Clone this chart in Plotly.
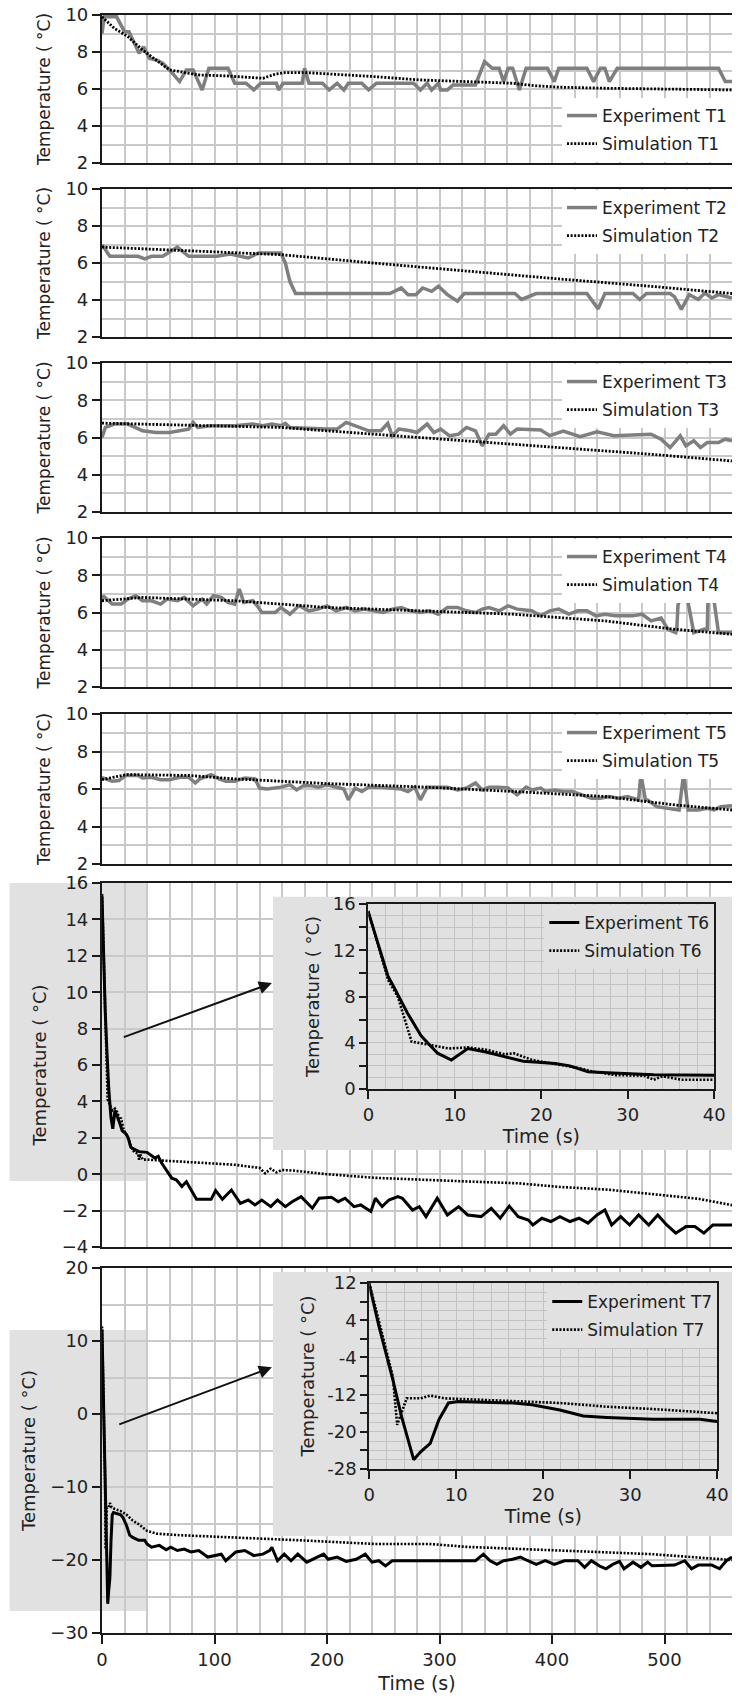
import plotly.graph_objects as go

# ---------------- data ----------------
t1_exp_x = [0, 2, 13, 20, 24, 33, 37, 42, 48, 54, 60, 69, 75, 81, 89, 95, 102, 112, 118, 128, 135, 141, 155, 157, 161, 178, 180, 184, 196, 202, 209, 215, 219, 231, 237, 244, 277, 283, 289, 293, 299, 301, 307, 312, 332, 340, 347, 353, 357, 361, 365, 371, 377, 396, 402, 406, 431, 437, 443, 447, 451, 458, 548, 554, 560]
t1_exp_y = [9.0, 9.9, 9.9, 9.1, 9.1, 7.93, 8.29, 7.66, 7.57, 7.39, 7.03, 6.4, 7.03, 7.03, 5.95, 7.12, 7.12, 7.12, 6.31, 6.31, 5.95, 6.31, 6.31, 5.95, 6.31, 6.31, 7.12, 6.31, 6.31, 5.95, 6.31, 5.95, 6.31, 6.31, 5.95, 6.31, 6.31, 5.95, 6.31, 5.95, 6.31, 5.95, 5.95, 6.22, 6.22, 7.48, 7.12, 7.12, 6.4, 7.12, 7.12, 5.95, 7.12, 7.12, 6.4, 7.12, 7.12, 6.4, 7.12, 7.12, 6.4, 7.12, 7.12, 6.4, 6.4]
t1_sim_x = [0, 11, 23, 36, 48, 60, 69, 85, 110, 130, 143, 155, 163, 180, 200, 242, 283, 324, 365, 386, 406, 447, 560]
t1_sim_y = [9.9, 9.28, 8.83, 8.11, 7.57, 7.03, 6.94, 6.76, 6.71, 6.64, 6.58, 6.82, 6.89, 6.89, 6.82, 6.67, 6.49, 6.4, 6.31, 6.17, 6.1, 6.04, 5.95]

t2_exp_x = [0, 7, 32, 38, 44, 54, 67, 77, 102, 114, 130, 139, 159, 163, 167, 172, 256, 266, 272, 279, 285, 293, 299, 307, 316, 322, 367, 373, 386, 431, 441, 447, 472, 478, 484, 505, 509, 515, 522, 530, 536, 542, 548, 560]
t2_exp_y = [6.99, 6.36, 6.36, 6.22, 6.36, 6.36, 6.86, 6.36, 6.36, 6.48, 6.27, 6.54, 6.54, 6.0, 5.01, 4.35, 4.35, 4.65, 4.29, 4.29, 4.65, 4.47, 4.74, 4.29, 3.94, 4.35, 4.35, 4.03, 4.35, 4.35, 3.52, 4.35, 4.35, 4.03, 4.35, 4.35, 4.17, 3.49, 4.29, 4.03, 4.38, 4.11, 4.29, 4.11]
t2_sim_x = [0, 77, 159, 241, 324, 406, 488, 560]
t2_sim_y = [6.86, 6.68, 6.45, 6.0, 5.55, 5.14, 4.74, 4.35]

t3_exp_x = [0, 3, 11, 23, 36, 48, 60, 77, 81, 85, 97, 118, 134, 143, 151, 159, 163, 167, 200, 209, 217, 225, 237, 248, 254, 258, 264, 274, 280, 289, 295, 301, 309, 317, 324, 332, 338, 344, 350, 357, 363, 369, 390, 398, 410, 425, 440, 455, 488, 497, 505, 514, 519, 526, 532, 538, 548, 554, 560]
t3_exp_y = [6.0, 6.54, 6.72, 6.72, 6.36, 6.27, 6.27, 6.45, 6.81, 6.54, 6.63, 6.63, 6.72, 6.63, 6.72, 6.63, 6.76, 6.54, 6.45, 6.45, 6.81, 6.63, 6.36, 6.36, 6.76, 6.09, 6.45, 6.36, 6.27, 6.72, 6.27, 6.45, 6.09, 6.18, 6.54, 6.36, 5.55, 6.18, 6.18, 6.63, 6.18, 6.45, 6.4, 6.1, 6.35, 6.05, 6.3, 6.1, 6.18, 5.91, 5.46, 6.09, 5.55, 5.82, 5.46, 5.73, 5.73, 5.91, 5.82]
t3_sim_x = [0, 159, 241, 324, 406, 488, 560]
t3_sim_y = [6.77, 6.54, 6.18, 5.82, 5.46, 5.1, 4.74]

t4_exp_x = [0, 1, 9, 17, 23, 30, 36, 44, 52, 58, 67, 73, 81, 89, 93, 99, 106, 112, 118, 122, 126, 134, 138, 142, 154, 159, 167, 175, 184, 192, 200, 208, 217, 225, 233, 241, 250, 258, 266, 274, 283, 291, 299, 307, 316, 324, 332, 338, 344, 353, 361, 369, 382, 390, 398, 406, 415, 423, 431, 439, 447, 456, 464, 472, 480, 488, 497, 503, 510, 511, 512, 518, 526, 535, 538, 539, 542, 548, 560]
t4_exp_y = [6.63, 6.9, 6.45, 6.45, 6.72, 6.9, 6.63, 6.63, 6.45, 6.72, 6.63, 6.81, 6.36, 6.72, 6.45, 6.9, 6.81, 6.54, 6.45, 7.26, 6.54, 6.63, 6.36, 6.0, 6.0, 6.27, 5.91, 6.36, 6.09, 6.18, 6.36, 6.09, 6.27, 6.09, 6.18, 6.09, 6.0, 6.18, 6.27, 6.09, 6.0, 6.09, 5.91, 6.27, 6.27, 6.09, 6.0, 6.18, 6.27, 6.09, 6.36, 6.18, 6.09, 5.82, 6.09, 6.18, 5.91, 6.09, 6.09, 5.82, 5.91, 5.82, 5.82, 5.82, 5.91, 5.55, 5.7, 5.1, 4.92, 5.2, 6.4, 7.5, 4.92, 5.1, 5.1, 7.5, 7.5, 4.92, 4.92]
t4_sim_x = [0, 36, 118, 200, 283, 365, 447, 509, 560]
t4_sim_y = [6.63, 6.81, 6.63, 6.27, 6.09, 5.91, 5.55, 5.1, 4.83]

t5_exp_x = [0, 1, 9, 15, 21, 32, 36, 44, 52, 60, 69, 77, 83, 87, 97, 104, 110, 118, 127, 136, 140, 147, 159, 167, 173, 179, 186, 192, 200, 209, 215, 219, 225, 231, 237, 246, 254, 266, 272, 278, 283, 289, 299, 307, 316, 324, 332, 338, 344, 353, 361, 369, 377, 382, 390, 394, 402, 410, 418, 427, 435, 443, 451, 459, 467, 477, 479, 483, 485, 493, 509, 513, 517, 521, 522, 530, 538, 544, 550, 560]
t5_exp_y = [6.59, 6.59, 6.41, 6.45, 6.72, 6.72, 6.59, 6.63, 6.5, 6.5, 6.63, 6.63, 6.32, 6.54, 6.77, 6.54, 6.41, 6.41, 6.59, 6.54, 6.05, 6.0, 6.1, 6.23, 5.95, 6.18, 6.18, 6.1, 6.23, 6.1, 6.0, 5.42, 6.05, 5.87, 6.1, 6.1, 6.05, 6.0, 5.87, 6.1, 5.42, 6.1, 6.1, 6.1, 5.95, 6.05, 6.32, 5.95, 6.1, 6.1, 6.05, 5.69, 6.1, 5.95, 6.05, 5.87, 5.95, 5.87, 5.87, 5.69, 5.51, 5.51, 5.6, 5.51, 5.6, 5.42, 6.8, 5.42, 5.42, 5.06, 4.88, 4.88, 6.8, 4.88, 4.88, 4.88, 4.97, 4.88, 5.06, 5.11]
t5_sim_x = [0, 22, 77, 118, 200, 283, 365, 447, 509, 560]
t5_sim_y = [6.5, 6.77, 6.72, 6.54, 6.29, 6.11, 5.87, 5.6, 5.15, 4.88]

t6_exp_x = [0, 2.3, 2.9, 4.5, 6.1, 8, 9.6, 11.5, 13.6, 15.8, 17.9, 20, 21.6, 23.3, 25.4, 27.6, 33, 40, 47, 50, 53, 59, 62, 66, 71, 75, 79, 84, 97, 101, 107, 115, 123, 130, 136, 142, 150, 156, 163, 169, 177, 187, 193, 204, 210, 216, 224, 230, 239, 243, 249, 255, 263, 267, 276, 282, 288, 298, 307, 317, 325, 337, 346, 354, 362, 370, 379, 383, 391, 399, 407, 416, 424, 432, 440, 447, 453, 461, 469, 477, 486, 494, 502, 510, 519, 527, 535, 543, 560]
t6_exp_y = [15.3, 9.7, 8.9, 6.6, 4.6, 3.1, 2.5, 3.5, 3.2, 2.8, 2.4, 2.3, 2.2, 2.0, 1.5, 1.4, 1.24, 1.2, 0.89, 0.98, 0.61, 0.06, -0.22, -0.31, -0.68, -0.41, -0.87, -1.38, -1.38, -0.9, -1.38, -0.87, -1.6, -1.42, -1.69, -1.42, -1.78, -1.42, -1.78, -1.51, -1.23, -1.87, -1.32, -1.27, -1.51, -1.32, -1.78, -1.69, -2.05, -1.32, -1.78, -1.42, -1.23, -1.32, -1.97, -1.78, -2.33, -1.32, -2.24, -1.78, -2.24, -2.33, -1.87, -2.42, -1.75, -2.33, -2.52, -2.79, -2.42, -2.6, -2.33, -2.6, -2.42, -2.69, -2.24, -1.97, -2.79, -2.33, -2.79, -2.24, -2.79, -2.24, -2.79, -3.24, -2.88, -2.88, -3.24, -2.79, -2.79]
t6_sim_x = [0, 2.3, 3.4, 4.5, 5, 7.2, 9.3, 11.5, 13.6, 15.8, 16.8, 19, 22.2, 24.4, 26, 28.7, 31.9, 33, 34, 36.2, 40, 50, 88, 118, 130, 140, 145, 150, 155, 160, 170, 200, 243, 280, 325, 370, 407, 450, 490, 530, 560]
t6_sim_y = [15.4, 9.4, 8.0, 5.4, 4.1, 3.8, 3.5, 3.6, 3.4, 3.0, 3.1, 2.5, 2.1, 1.8, 1.5, 1.2, 1.15, 0.8, 1.1, 0.8, 0.8, 0.76, 0.61, 0.52, 0.42, 0.35, 0.05, 0.3, 0.1, 0.23, 0.2, 0.0, -0.2, -0.3, -0.4, -0.5, -0.7, -0.85, -1.1, -1.35, -1.7]

t7_exp_x = [0, 1.1, 2.7, 3.7, 5.1, 5.9, 7, 8, 9.1, 10.2, 16.6, 18.7, 21.9, 24.6, 27.3, 32.6, 38, 40, 44, 51, 57, 61, 67, 73, 79, 86, 94, 106, 110, 119, 127, 135, 143, 149, 151, 156, 162, 168, 174, 182, 188, 197, 201, 209, 217, 226, 234, 240, 246, 252, 258, 332, 339, 345, 351, 357, 365, 372, 377, 386, 394, 402, 411, 423, 429, 435, 442, 448, 454, 460, 464, 472, 479, 485, 489, 497, 509, 518, 524, 530, 542, 549, 555, 560]
t7_exp_y = [11.6, 2.7, -8.8, -16.7, -26.0, -24.3, -22.5, -17.4, -13.8, -13.5, -13.8, -14.2, -15.3, -16.6, -16.9, -17.3, -17.3, -17.8, -18.25, -18.0, -18.6, -18.25, -18.7, -18.5, -18.9, -18.7, -19.6, -19.2, -20.1, -18.9, -18.7, -19.4, -19.2, -18.7, -18.25, -20.1, -19.2, -20.1, -19.2, -20.3, -19.9, -19.2, -19.9, -19.6, -20.2, -19.9, -19.2, -20.3, -20.1, -20.8, -20.1, -20.1, -19.2, -20.1, -20.6, -20.1, -19.9, -19.6, -20.0, -20.6, -20.1, -20.6, -20.1, -20.1, -21.0, -20.1, -20.8, -21.2, -20.6, -20.2, -21.2, -20.3, -21.0, -20.3, -20.8, -20.8, -20.7, -20.1, -21.2, -20.7, -20.7, -21.2, -20.1, -19.6]
t7_sim_x = [0, 1.6, 2.7, 3.2, 4.3, 5.9, 7, 8.6, 11.2, 16.6, 21.9, 27.3, 32.6, 40, 49, 69, 119, 176, 242, 291, 324, 407, 489, 560]
t7_sim_y = [12.0, -0.2, -8.1, -18.5, -12.8, -12.8, -12.2, -12.8, -13.0, -13.3, -13.8, -14.6, -15.1, -16.0, -16.4, -16.6, -16.9, -17.3, -17.8, -17.8, -18.2, -18.7, -19.2, -20.0]

main_x_ticks = [0, 100, 200, 300, 400, 500]
inset_x_ticks = [0, 10, 20, 30, 40]
inset6_y_vals = [0, 2, 4, 6, 8, 10, 12, 14, 16]
inset6_y_text = ["0", "", "4", "", "8", "", "12", "", "16"]
inset7_y_vals = [-28, -24, -20, -16, -12, -8, -4, 0, 4, 8, 12]
inset7_y_text = ["-28", "", "-20", "", "-12", "", "-4", "", "4", "", "12"]

# ---------------- layout geometry ----------------
W, H = 743, 1705
ML, MR, MT, MB = 102, 0, 15, 72
PH = H - MT - MB
PW = W - ML - MR

def py(p):
    return (H - MB - p) / PH

def px(p):
    return (p - ML) / PW

panels = [(15, 163), (189, 337), (363, 512), (538, 687), (714, 864), (883, 1247), (1268, 1633)]
yranges = [[2, 10]] * 5 + [[-4, 16], [-30, 20]]

FONT = "DejaVu Sans, Liberation Sans, Arial, sans-serif"
GRID = "#c9c9c9"
AX = "#1a1a1a"
EXP_GREY = "#7f7f7f"
BOXGREY = "#e1e1e1"
YT = "Temperature ( °C)"
TICKF = dict(family=FONT, size=18, color="#222")

fig = go.Figure()

# grey backgrounds for the insets (drawn in main-panel data space)
fig.add_trace(go.Scatter(x=[152, 560, 560, 152, 152], y=[15.25, 15.25, 1.33, 1.33, 15.25], mode="lines",
                         fill="toself", fillcolor=BOXGREY, line=dict(width=0), showlegend=False,
                         hoverinfo="skip", xaxis="x6", yaxis="y6"))
fig.add_trace(go.Scatter(x=[152, 560, 560, 152, 152], y=[19.45, 19.45, -16.7, -16.7, 19.45], mode="lines",
                         fill="toself", fillcolor=BOXGREY, line=dict(width=0), showlegend=False,
                         hoverinfo="skip", xaxis="x7", yaxis="y7"))

DOT = "2px,1.6px"
series = [
    (t1_exp_x, t1_exp_y, t1_sim_x, t1_sim_y, "T1"),
    (t2_exp_x, t2_exp_y, t2_sim_x, t2_sim_y, "T2"),
    (t3_exp_x, t3_exp_y, t3_sim_x, t3_sim_y, "T3"),
    (t4_exp_x, t4_exp_y, t4_sim_x, t4_sim_y, "T4"),
    (t5_exp_x, t5_exp_y, t5_sim_x, t5_sim_y, "T5"),
]
for i, (ex, ey, sx, sy, name) in enumerate(series):
    k = "" if i == 0 else str(i + 1)
    lg = "legend" if i == 0 else "legend" + str(i + 1)
    fig.add_trace(go.Scatter(x=ex, y=ey, mode="lines", name="Experiment " + name, legendgroup="e" + name,
                             line=dict(color=EXP_GREY, width=3.5), xaxis="x" + k, yaxis="y" + k,
                             legend=lg))
    fig.add_trace(go.Scatter(x=sx, y=sy, mode="lines", name="Simulation " + name, legendgroup="s" + name,
                             line=dict(color="black", width=2.8, dash=DOT), xaxis="x" + k, yaxis="y" + k,
                             legend=lg))

# main T6 / T7
for (ex, ey, sx, sy, k) in [(t6_exp_x, t6_exp_y, t6_sim_x, t6_sim_y, "6"), (t7_exp_x, t7_exp_y, t7_sim_x, t7_sim_y, "7")]:
    fig.add_trace(go.Scatter(x=sx, y=sy, mode="lines", showlegend=False,
                             line=dict(color="black", width=2.6, dash=DOT), xaxis="x" + k, yaxis="y" + k))
    fig.add_trace(go.Scatter(x=ex, y=ey, mode="lines", showlegend=False,
                             line=dict(color="black", width=3), xaxis="x" + k, yaxis="y" + k))

# insets
for (ex, ey, sx, sy, name, xa, ya, lg) in [
        (t6_exp_x, t6_exp_y, t6_sim_x, t6_sim_y, "T6", "x8", "y8", "legend6"),
        (t7_exp_x, t7_exp_y, t7_sim_x, t7_sim_y, "T7", "x9", "y9", "legend7")]:
    fig.add_trace(go.Scatter(x=ex, y=ey, mode="lines", name="Experiment " + name, legendgroup="e" + name,
                             line=dict(color="black", width=3), xaxis=xa, yaxis=ya, legend=lg))
    fig.add_trace(go.Scatter(x=sx, y=sy, mode="lines", name="Simulation " + name, legendgroup="s" + name,
                             line=dict(color="black", width=2.6, dash=DOT), xaxis=xa, yaxis=ya, legend=lg))

lay = dict(
    width=W, height=H, margin=dict(l=ML, r=MR, t=MT, b=MB),
    paper_bgcolor="white", plot_bgcolor="rgba(0,0,0,0)",
    font=dict(family=FONT, size=18, color="#222"),
    showlegend=True,
)

for i, (top, bot) in enumerate(panels):
    k = "" if i == 0 else str(i + 1)
    last = (i == 6)
    xa = dict(domain=[0, 1], anchor="y" + k, range=[0, 560], showline=True, linecolor=AX, linewidth=2.2,
              mirror=True, showgrid=True, gridcolor=GRID, gridwidth=1.5, zeroline=False,
              tickvals=main_x_ticks, showticklabels=last, ticks="outside" if last else "",
              ticklen=9, tickwidth=2, tickcolor=AX, tickfont=TICKF,
              minor=dict(dtick=20, tick0=0, showgrid=True, gridcolor=GRID, gridwidth=1.5))
    if last:
        xa["title"] = dict(text="Time (s)", standoff=8, font=dict(family=FONT, size=19))
    tsize = 17 if i < 5 else 18
    ya = dict(domain=[py(bot), py(top)], anchor="x" + k, range=yranges[i], showline=True, linecolor=AX,
              linewidth=2.2, showgrid=True, gridcolor=GRID, gridwidth=1.5, zeroline=False,
              ticks="outside", ticklen=8, tickwidth=2, tickcolor=AX, tickfont=TICKF,
              title=dict(text=YT, standoff=10, font=dict(family=FONT, size=tsize)))
    if i < 5:
        ya.update(dtick=2, tick0=2, minor=dict(dtick=1, showgrid=True, gridcolor=GRID, gridwidth=1.5))
    elif i == 5:
        ya.update(dtick=2, tick0=0)
    else:
        ya.update(dtick=10, tick0=0, minor=dict(dtick=5, showgrid=True, gridcolor=GRID, gridwidth=1.5))
    lay["xaxis" + k] = xa
    lay["yaxis" + k] = ya

IGRID = "#c2c2c2"
insets = [
    ("8", [373, 725], [904, 1089], [0, 16], inset6_y_vals, inset6_y_text, 1),
    ("9", [374, 728], [1283, 1469], [-28, 12], inset7_y_vals, inset7_y_text, 2),
]
for (k, xs, ys, yr, tv, tt, mdt) in insets:
    lay["xaxis" + k] = dict(domain=[px(xs[0]), px(xs[1])], anchor="y" + k, range=[0, 40], tickvals=inset_x_ticks,
                            showline=True, linecolor=AX, linewidth=2.2, mirror=True, ticks="outside",
                            ticklen=8, tickwidth=2, tickcolor=AX, showgrid=True, gridcolor=IGRID,
                            gridwidth=1.2, zeroline=False, tickfont=TICKF,
                            minor=dict(dtick=2, tick0=0, showgrid=True, gridcolor=IGRID, gridwidth=1.2),
                            title=dict(text="Time (s)", standoff=0, font=dict(family=FONT, size=19)))
    lay["yaxis" + k] = dict(domain=[py(ys[1]), py(ys[0])], anchor="x" + k, range=yr, tickvals=tv, ticktext=tt,
                            showline=True, linecolor=AX, linewidth=2.2, mirror=True, ticks="outside",
                            ticklen=7, tickwidth=2, tickcolor=AX, showgrid=True, gridcolor=IGRID,
                            gridwidth=1.2, zeroline=False, tickfont=TICKF,
                            minor=dict(dtick=mdt, tick0=0, showgrid=True, gridcolor=IGRID, gridwidth=1.2),
                            title=dict(text=YT, standoff=8, font=dict(family=FONT, size=18)))

leg_common = dict(font=dict(family=FONT, size=17, color="#222"), borderwidth=0, tracegroupgap=3,
                  itemclick=False, itemdoubleclick=False)
lay["legend"] = dict(x=1, xanchor="right", y=py(162), yanchor="bottom", bgcolor="white", **leg_common)
for i in range(1, 5):
    top = panels[i][0]
    lay["legend" + str(i + 1)] = dict(x=1, xanchor="right", y=py(top + 1), yanchor="top", bgcolor="white",
                                      **leg_common)
lay["legend6"] = dict(x=px(725), xanchor="right", y=py(905), yanchor="top", bgcolor=BOXGREY, **leg_common)
lay["legend7"] = dict(x=px(728), xanchor="right", y=py(1284), yanchor="top", bgcolor=BOXGREY, **leg_common)

lay["shapes"] = [
    dict(type="rect", xref="paper", yref="paper", x0=px(8), x1=px(147), y0=py(1181), y1=py(883),
         fillcolor=BOXGREY, line=dict(width=0), layer="below"),
    dict(type="rect", xref="paper", yref="paper", x0=px(8), x1=px(147), y0=py(1611), y1=py(1330),
         fillcolor=BOXGREY, line=dict(width=0), layer="below"),
]
lay["annotations"] = [
    dict(x=151, y=10.5, ax=18, ay=7.5, xref="x6", yref="y6", axref="x6", ayref="y6", text="",
         showarrow=True, arrowhead=2, arrowsize=1.3, arrowwidth=2, arrowcolor="#111"),
    dict(x=151, y=6.4, ax=14, ay=-1.5, xref="x7", yref="y7", axref="x7", ayref="y7", text="",
         showarrow=True, arrowhead=2, arrowsize=1.3, arrowwidth=2, arrowcolor="#111"),
]

fig.update_layout(**lay)
fig.write_html("out.html")
